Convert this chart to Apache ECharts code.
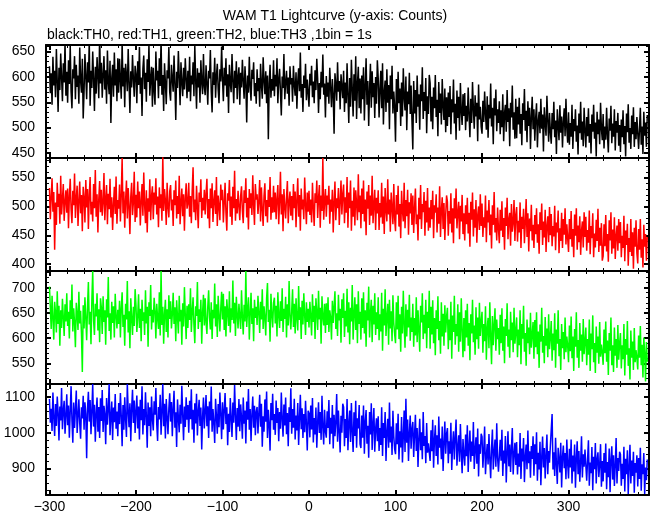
<!DOCTYPE html>
<html><head><meta charset="utf-8">
<script src="https://cdn.jsdelivr.net/npm/echarts@6/dist/echarts.min.js"></script>
<style>html,body{margin:0;padding:0;background:#fff}#c{width:652px;height:515px}</style>
</head><body><div id="c"></div>
<script>
// time of first bin (s); 1 bin = 1 s
const t0 = -300;
const titleText = 'WAM T1 Lightcurve (y-axis: Counts)';
const subText = 'black:TH0, red:TH1, green:TH2, blue:TH3 ,1bin = 1s';
const seriesNames = ['TH0','TH1','TH2','TH3'];

const th0 = [
621,568,607,545,640,583,612,560,655,592,531,618,574,646,599,552,627,589,668,563,
610,549,633,586,662,571,538,615,597,641,556,624,580,603,547,658,592,569,636,518,
572,645,601,556,629,589,671,543,612,578,650,596,533,620,567,639,604,558,684,587,
628,559,604,641,575,613,547,652,590,566,632,509,597,624,561,648,583,615,552,637,
569,636,594,557,668,581,618,540,626,603,572,655,588,529,611,579,643,596,561,622,
605,548,631,584,659,567,599,523,616,642,576,608,551,635,590,664,563,597,620,541,
618,574,545,650,593,612,558,637,582,676,565,604,533,627,589,546,613,597,659,570,
553,624,596,571,642,587,515,610,578,651,601,544,629,590,562,618,575,637,596,558,
612,571,640,552,603,585,629,562,661,594,537,617,579,608,549,633,590,566,645,581,
564,623,588,545,612,597,653,571,530,609,584,638,559,602,626,576,548,615,591,660,
596,552,618,583,637,561,605,529,624,589,570,645,593,548,612,578,631,556,601,619,
545,608,579,634,592,557,621,586,510,603,569,640,581,553,614,596,629,562,588,547,
615,572,598,541,626,584,557,639,593,566,611,548,603,477,587,624,559,596,573,633,
562,604,581,637,548,595,616,570,524,601,578,645,556,589,612,567,599,543,621,585,
598,551,622,584,563,609,537,591,617,572,648,559,586,531,603,578,626,554,595,569,
541,606,583,622,560,591,548,613,574,636,597,529,588,556,610,579,644,565,587,520,
602,561,589,547,618,578,540,596,565,488,607,584,553,629,571,592,536,605,581,558,
612,531,589,548,627,563,509,598,541,634,576,522,605,553,641,517,586,620,538,597,
528,603,556,619,514,581,637,545,592,503,574,626,539,611,560,588,519,600,547,633,
598,520,575,612,538,627,506,569,593,531,615,549,584,497,603,556,622,528,571,540,
472,596,531,610,548,577,503,589,522,617,559,534,601,495,571,546,608,527,583,515,
457,592,528,574,509,603,541,566,496,585,552,619,517,570,533,598,489,562,527,604,
588,512,561,497,579,538,604,521,555,483,590,529,567,506,596,542,515,577,491,560,
503,569,521,582,487,556,530,595,508,547,476,573,519,561,494,588,532,505,566,523,
568,495,543,512,579,526,481,557,509,590,537,498,564,522,549,473,585,516,541,502,
488,553,511,571,527,496,562,480,545,518,587,502,539,467,558,524,575,493,536,509,
552,487,534,501,566,473,528,545,492,574,511,538,463,549,520,583,496,530,478,557,
479,541,506,559,488,527,465,548,515,576,494,533,471,552,503,539,458,520,561,497,
536,474,519,548,461,512,531,489,557,498,526,453,540,508,484,563,515,472,529,492,
468,529,497,551,481,514,448,536,505,475,544,490,522,461,511,538,483,557,499,470,
530,466,509,482,545,458,517,493,536,472,504,447,528,489,551,476,512,463,539,494,
461,521,483,538,470,507,449,526,492,545,478,510,443,531,487,516,467,549,498,475,
527,459,502,476,539,485,451,518,494,543,469,508,482,536,455,513,490,529,464,505,
452,516,481,534,467,503,443,528,491,546,470,499,458,524,487,540,462,511,477,521,
519,458,497,539,466,502,448,531,484,510,462,525
];

const th1 = [
532,478,516,549,491,525,425,507,468,541,499,522,470,553,486,512,539,475,508,528,
489,531,462,518,548,495,471,527,502,557,480,514,536,466,509,543,488,520,457,534,
515,472,546,498,530,461,519,551,486,508,474,539,497,563,482,521,455,512,544,490,
529,484,507,558,476,513,537,469,522,495,548,481,516,459,503,534,487,552,470,511,
496,538,474,519,584,488,526,463,510,545,479,532,501,452,517,541,485,507,560,473,
520,481,543,497,526,467,509,539,484,559,502,471,528,455,514,491,547,476,518,535,
478,524,503,549,486,517,464,533,497,521,475,588,492,530,510,468,541,499,481,526,
537,493,512,466,528,502,545,479,518,487,553,469,507,531,483,521,458,514,540,496,
505,541,482,518,471,527,568,490,512,476,536,499,462,524,508,547,480,515,493,529,
486,522,548,479,513,462,531,497,540,473,509,528,487,551,466,519,500,476,538,511,
529,472,506,541,489,458,523,510,546,482,517,468,534,497,562,475,513,488,527,501,
476,518,535,492,471,528,506,549,481,515,460,530,497,523,485,554,502,468,539,512,
521,487,509,546,474,533,495,466,518,540,483,511,472,529,499,551,477,516,489,536,
490,524,478,513,537,469,508,560,486,521,457,530,500,479,516,544,471,507,526,484,
518,476,539,497,526,464,511,549,482,520,458,531,495,512,478,550,503,469,524,491,
527,485,512,472,541,498,466,523,506,545,480,514,537,463,519,492,584,477,509,530,
482,519,503,536,470,512,491,529,455,507,543,476,514,497,532,468,508,545,486,521,
538,471,516,489,551,463,524,497,545,458,510,482,533,467,528,505,476,556,490,519,
462,531,487,545,474,512,450,526,496,537,468,519,484,553,471,503,529,459,515,488,
528,459,506,481,541,470,517,452,532,493,474,547,486,512,456,524,498,469,539,480,
457,520,486,536,465,504,445,527,493,474,541,462,511,483,529,451,507,488,523,468,
519,454,497,531,469,486,441,515,478,537,461,504,490,525,449,510,472,532,458,498,
463,511,478,527,445,502,489,521,455,498,470,535,447,493,516,461,506,442,485,519,
508,449,492,470,523,455,497,436,514,479,531,462,489,508,443,501,474,520,452,488,
441,502,469,515,453,489,430,508,477,524,448,495,463,511,437,484,500,459,521,466,
505,447,481,463,519,438,493,472,511,450,486,427,502,468,525,455,480,441,498,461,
436,494,458,509,447,480,425,498,466,515,443,477,489,432,504,456,472,511,440,485,
499,439,475,455,507,428,482,461,496,436,471,513,447,488,422,479,457,503,441,468,
428,485,452,497,437,469,418,490,459,505,433,474,446,494,421,466,483,438,499,450,
487,431,466,448,501,424,472,455,493,419,462,440,489,428,478,451,497,434,469,445,
421,478,443,492,430,461,412,486,449,497,425,467,438,483,416,458,474,429,490,447,
482,423,459,437,493,417,466,445,488,412,453,429,477,440,496,421,463,432,471,406,
414,469,431,485,422,452,404,476,441,490,418,460,427,481,409,448,467,423,478,436,
473,412,449,428,484,405,458,433,470,397,445,421,478,414,455,392,463,430,476,419,
401,461,425,478,411,443,394,468,430,452,406,447
];

const th2 = [
702,661,618,684,639,597,672,650,611,693,628,664,585,655,620,678,641,604,667,633,
689,624,652,599,675,638,706,613,659,631,582,670,647,616,692,629,654,608,533,665,
619,681,640,596,663,711,627,652,588,674,733,635,606,668,643,689,615,657,592,679,
660,608,683,632,655,587,677,641,721,614,649,597,672,630,663,601,688,644,619,656,
628,674,601,659,691,622,646,585,668,637,713,611,653,580,679,640,606,662,624,697,
665,612,643,687,620,658,594,676,634,651,606,695,629,662,583,671,644,705,617,656,
631,680,654,599,668,640,618,691,605,733,626,662,589,648,676,612,657,601,685,638,
673,619,647,690,628,661,594,675,642,609,684,633,656,587,669,623,701,646,598,664,
620,667,636,699,612,652,681,627,590,663,644,711,618,657,632,676,589,650,686,625,
679,631,608,662,695,641,617,671,598,656,639,708,623,667,602,684,645,613,659,692,
637,688,616,663,603,677,650,624,693,611,659,636,714,629,670,604,682,645,619,668,
671,618,695,642,607,666,633,733,622,656,681,597,648,690,628,659,594,676,640,662,
626,684,651,610,672,637,697,618,663,641,605,679,709,632,656,593,688,647,621,670,
680,629,664,603,691,645,620,673,634,699,612,658,638,682,601,667,625,713,644,617,
654,697,622,668,609,679,640,615,703,636,661,598,674,627,689,645,606,671,632,658,
621,672,643,605,687,632,664,598,679,651,616,694,637,660,589,683,642,625,668,610,
669,626,681,612,655,641,597,674,630,662,693,618,649,604,686,635,658,591,677,640,
689,602,654,623,698,611,671,588,660,633,705,597,648,681,616,667,590,693,628,652,
597,679,620,691,609,655,583,670,635,702,601,648,676,592,664,627,689,606,651,618,
681,596,647,613,690,575,658,625,697,604,642,668,587,676,619,653,594,685,630,608,
590,671,617,684,598,647,573,662,609,694,626,581,667,603,656,621,686,595,641,612,
668,583,640,605,681,592,655,616,573,664,631,689,598,646,609,676,580,652,620,694,
579,662,607,675,590,640,566,655,618,683,596,634,569,671,603,648,585,665,611,642,
660,578,637,596,672,559,645,612,684,587,628,604,667,573,651,593,679,616,562,640,
574,655,601,668,585,630,556,647,609,676,592,625,567,661,598,641,579,670,604,633,
652,571,628,594,663,557,619,640,580,671,603,548,644,586,626,659,575,637,598,620,
567,646,590,659,575,623,550,638,604,669,583,617,561,652,596,631,572,660,589,612,
641,562,617,586,655,548,628,599,664,573,610,545,637,590,621,568,650,581,606,632,
559,636,582,651,568,613,541,627,593,660,571,604,550,642,585,619,562,647,578,601,
634,555,609,576,649,541,617,589,655,564,598,537,628,580,612,558,641,572,603,585,
552,625,574,643,560,603,535,618,583,651,561,596,541,630,575,607,553,638,568,592,
621,546,598,567,637,535,609,578,645,552,590,531,623,571,603,549,632,563,587,571,
547,617,570,633,553,595,527,610,575,641,546,586,533,621,565,598,541,626,557,589,
610,540,586,558,628,526,598,567,634,545,580,518,615,561,593,537,620,552,576,560,
538,605,561,624,546,587,522,601,571,514,592,553
];

const th3 = [
1094,1028,1067,1005,1112,1043,991,1080,1019,1101,1056,978,1073,1034,1125,1010,1062,1089,997,1048,
1107,1021,1076,986,1059,1130,1035,972,1084,1013,1065,1118,999,1047,1093,1026,983,1071,1040,1103,
1008,1085,1052,929,1069,1114,1031,1091,996,1060,1136,1017,1078,975,1054,1098,1003,1072,985,1096,
1033,1119,1002,1075,1051,968,1097,1022,1066,1136,993,1044,1087,980,1070,1029,1108,1011,1059,990,
1083,1024,1111,1046,962,1077,1008,1099,1038,988,1136,1061,1015,1082,976,1068,1120,1027,1090,999,
1060,1104,1012,1073,981,1092,1035,1130,995,1066,1021,1113,1047,958,1084,1019,1071,990,1101,1039,
1006,1088,1050,1125,1025,977,1072,1037,1106,994,1059,1136,1018,1081,984,1094,1043,996,1067,1110,
1031,1086,990,1068,1117,1014,1057,960,1093,1042,1001,1078,1025,1131,1050,979,1073,1016,1099,1036,
1077,1000,1089,1038,1121,1009,1064,972,1082,1026,1109,992,1058,1092,1019,1070,953,1044,1098,1012,
1061,1105,1018,1074,985,1087,1034,1129,1003,1066,1027,971,1095,1046,997,1080,1015,1112,1052,982,
1085,1009,1063,1111,1024,1071,965,1053,1002,1097,1039,988,1084,1028,1133,1048,980,1069,1017,1094,
1004,1079,1041,983,1098,1025,1062,970,1087,1036,1122,1008,1066,977,1051,1101,1014,1075,993,1059,
1072,998,1054,1106,1017,1081,961,1046,1003,1093,1031,1115,985,1064,1022,950,1083,1035,1109,1008,
1052,994,1090,1027,1069,976,1058,1011,1112,1038,989,1079,1020,1098,996,1055,962,1071,1030,1124,
997,1066,1014,1095,981,1048,1006,1083,966,1040,1106,1010,1068,985,1052,1001,1089,1024,950,1061,
1054,987,1076,1009,1097,973,1041,995,1070,958,1028,1085,999,1058,980,1103,1016,967,1064,1003,
986,1060,1013,1091,968,1042,997,1077,956,1050,990,1031,1108,975,1062,1004,945,1047,1000,1081,
1071,962,1038,985,1094,951,1027,1062,974,1083,1003,946,1057,991,1089,958,1040,1012,1077,968,
957,1048,986,1076,941,1031,1063,969,1019,930,1058,995,1082,952,1024,1069,947,1010,1040,976,
1046,949,1013,966,1071,935,1027,985,1058,921,1002,1039,958,1084,973,1017,938,1061,990,954,
940,1026,968,1053,925,1004,959,1044,917,990,1062,946,1095,972,1037,921,999,1048,955,1010,
1030,932,994,1050,949,1013,904,983,1039,951,1001,926,1058,963,991,915,1027,944,970,970,
921,1007,948,1036,902,979,1021,935,993,911,1045,958,984,926,1017,893,970,1031,941,996,
1013,915,976,941,1028,896,967,1004,925,987,1037,908,959,993,919,1024,947,887,982,938,
908,995,934,1021,890,961,1006,919,975,935,1030,899,952,987,913,1012,878,968,941,997,
989,902,951,1017,884,934,968,911,996,926,873,958,1009,897,945,981,905,1026,930,891,
896,980,922,1008,879,950,914,991,861,943,1004,906,967,890,957,1013,883,939,972,910,
974,883,942,905,999,871,956,920,985,862,933,967,898,1006,915,948,874,963,927,990,
880,968,912,1001,866,944,897,975,853,931,989,903,957,872,938,995,884,949,916,964,
961,1052,897,945,879,986,911,857,958,925,889,972,847,932,964,901,943,870,981,913,
872,955,903,981,858,936,892,967,846,927,976,884,949,863,918,990,875,940,905,953,
951,866,925,979,852,917,887,960,839,933,898,971,858,926,945,876,910,968,849,921,
864,943,888,970,842,918,876,956,834,924,962,869,937,851,909,985,858,929,893,947,
940,852,913,871,961,836,927,884,951,829,905,966,858,922,879,947,832,915,888,937,
850,929,871,958,838,912,884,943,829,903,867,925
];

const seriesData = [th0, th1, th2, th3];
const seriesColors = ['#000000','#ff0000','#00ff00','#0000ff'];

const xRange = [-304, 393];
const xMajorTicks = [-300,-200,-100,0,100,200,300];
const xMinorStep = 20;
const yRanges = [[440,663],[388,584],[509,733],[826,1136]];
const yMajorTicks = [[450,500,550,600,650],[400,450,500,550],[550,600,650,700],[900,1000,1100]];
const yMinorStep = [10,10,10,20];

// layout
const gridLeft = 46, gridWidth = 603;
const gridTops = [45,158,271,384];
const gridHeights = [113,113,113,111];
const FONT = 'Liberation Sans';

function range(a, b, s){ const r=[]; for(let v=Math.ceil(a/s)*s; v<=b; v+=s) r.push(v); return r; }
const xMinorTicks = range(xRange[0], xRange[1], xMinorStep);
const fmt = v => (v < 0 ? '\u2212' + (-v) : String(v));

const grids=[], xAxes=[], yAxes=[], series=[];
for (let i=0;i<4;i++){
  grids.push({left:gridLeft, width:gridWidth, top:gridTops[i], height:gridHeights[i], show:false});
  const yMin = range(yRanges[i][0], yRanges[i][1], yMinorStep[i]);
  [['bottom',true],['bottom',false],['top',true],['top',false]].forEach(([pos,major])=>{
    xAxes.push({type:'value', gridIndex:i, position:pos, min:xRange[0], max:xRange[1],
      axisLine:{show:major, onZero:false, lineStyle:{color:'#000', width:2}},
      axisTick:{show:true, inside:true, length: major?5:3, customValues: major?xMajorTicks:xMinorTicks,
        lineStyle:{color:'#000', width: major?2:1}},
      axisLabel:{show: major && pos==='bottom' && i===3, customValues:xMajorTicks, formatter:fmt,
        color:'#000', fontSize:14, fontFamily:FONT, margin:5},
      splitLine:{show:false}});
  });
  [['left',true],['left',false],['right',true],['right',false]].forEach(([pos,major])=>{
    yAxes.push({type:'value', gridIndex:i, position:pos, min:yRanges[i][0], max:yRanges[i][1],
      axisLine:{show:major, onZero:false, lineStyle:{color:'#000', width:2}},
      axisTick:{show:true, inside:true, length: major?5:3, customValues: major?yMajorTicks[i]:yMin,
        lineStyle:{color:'#000', width: major?2:1}},
      axisLabel:{show: major && pos==='left', customValues:yMajorTicks[i], formatter:fmt,
        color:'#000', fontSize:14, fontFamily:FONT, margin:11},
      splitLine:{show:false}});
  });
  series.push({type:'line', name:seriesNames[i], xAxisIndex:4*i, yAxisIndex:4*i,
    data: seriesData[i].map((v,k)=>[t0+k, v]),
    showSymbol:false, symbol:'none', clip:true,
    lineStyle:{color:seriesColors[i], width:1.5}, itemStyle:{color:seriesColors[i]}});
}

const chart = echarts.init(document.getElementById('c'), null, {renderer:'canvas'});
chart.setOption({
  animation:false,
  backgroundColor:'#fff',
  title:[
    {text:titleText, left:335, top:9, textAlign:'center', padding:0,
      textStyle:{fontSize:14, fontWeight:'normal', fontFamily:FONT, color:'#000'}},
    {text:subText, left:47, top:28, padding:0,
      textStyle:{fontSize:14, fontWeight:'normal', fontFamily:FONT, color:'#000'}}
  ],
  grid:grids, xAxis:xAxes, yAxis:yAxes, series:series
});
</script></body></html>
